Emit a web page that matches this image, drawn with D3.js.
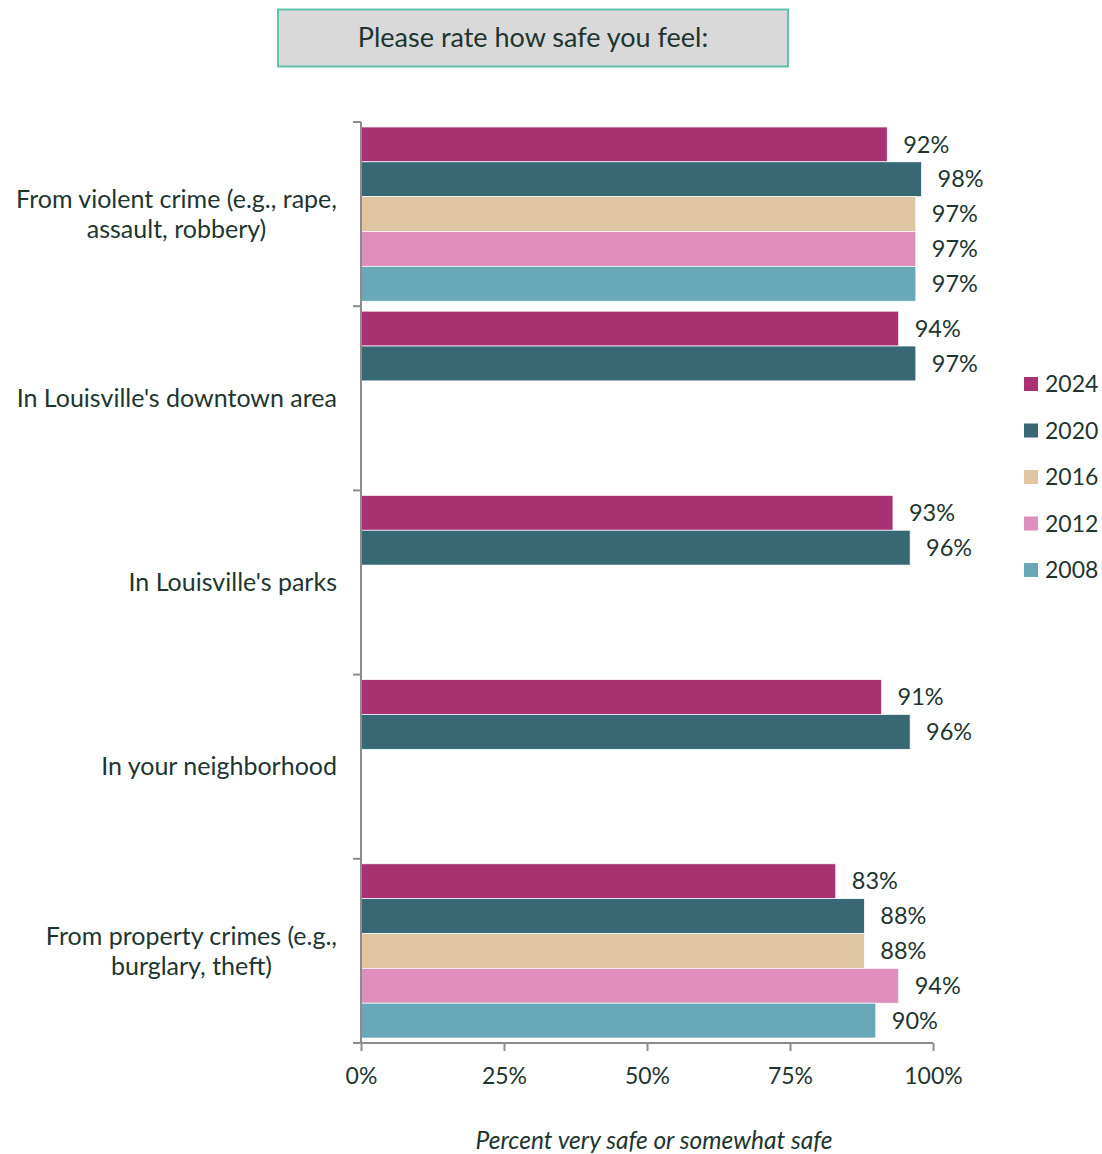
<!DOCTYPE html>
<html>
<head>
<meta charset="utf-8">
<script src="https://cdn.jsdelivr.net/npm/d3@7"></script>
<style>
  html, body { margin: 0; padding: 0; background: #ffffff; }
  svg { display: block; font-family: Lato, "Open Sans", sans-serif; }
</style>
</head>
<body>
<svg id="chart" width="1102" height="1154"></svg>
<script>
// Survey question shown in the header box
const title = "Please rate how safe you feel:";
const axisTitle = "Percent very safe or somewhat safe";

// Categories (each label may wrap onto two lines)
const categories = [
  ["From violent crime (e.g., rape,", "assault, robbery)"],
  ["In Louisville's downtown area"],
  ["In Louisville's parks"],
  ["In your neighborhood"],
  ["From property crimes (e.g.,", "burglary, theft)"]
];

// Survey years, in drawing order
const years = ["2024", "2020", "2016", "2012", "2008"];
const colors = ["#a83274", "#386874", "#dfc5a1", "#df8fbb", "#69a8b8"];

// Percent feeling very or somewhat safe, one array per year (null = not asked)
const v2024 = [92, 94, 93, 91, 83];
const v2020 = [98, 97, 96, 96, 88];
const v2016 = [97, null, null, null, 88];
const v2012 = [97, null, null, null, 94];
const v2008 = [97, null, null, null, 90];
const seriesValues = [v2024, v2020, v2016, v2012, v2008];

const xTicks = [0, 25, 50, 75, 100];

const textColor = "#1e3530";
const axisColor = "#8c8c8c";

const svg = d3.select("#chart");

// Header box
svg.append("rect")
  .attr("x", 278).attr("y", 9.5).attr("width", 510).attr("height", 57)
  .attr("fill", "#d9d9d9").attr("stroke", "#62c0ad").attr("stroke-width", 2);
svg.append("text")
  .attr("x", 533).attr("y", 38).attr("dy", "0.35em")
  .attr("text-anchor", "middle").attr("font-size", 27).attr("fill", textColor)
  .text(title);

const plot = { left: 361, right: 933, top: 122, bottom: 1043 };

const x = d3.scaleLinear().domain([0, 100]).range([plot.left, plot.right]);
const y = d3.scaleBand().domain(d3.range(categories.length))
  .range([plot.top, plot.bottom]).paddingInner(0).paddingOuter(0);
const yInner = d3.scaleBand().domain(years)
  .range([5, y.bandwidth() - 5]).paddingInner(0);

// Bars
const rows = [];
categories.forEach((c, ci) => {
  years.forEach((yr, yi) => {
    const v = seriesValues[yi][ci];
    if (v != null) rows.push({ ci, yr, yi, v });
  });
});

const g = svg.append("g");
g.selectAll("rect.bar").data(rows).join("rect")
  .attr("class", "bar")
  .attr("x", x(0))
  .attr("y", d => y(d.ci) + yInner(d.yr))
  .attr("width", d => x(d.v) - x(0))
  .attr("height", yInner.bandwidth())
  .attr("fill", d => colors[d.yi])
  .attr("stroke", "#ffffff").attr("stroke-width", 0.7);

// Value labels
g.selectAll("text.val").data(rows).join("text")
  .attr("class", "val")
  .attr("x", d => x(d.v) + 16)
  .attr("y", d => y(d.ci) + yInner(d.yr) + yInner.bandwidth() / 2)
  .attr("dy", "0.35em")
  .attr("font-size", 23.5).attr("fill", textColor)
  .text(d => d.v + "%");

// Left axis with ticks at category boundaries
const yAxis = svg.append("g");
yAxis.append("line")
  .attr("x1", plot.left).attr("x2", plot.left)
  .attr("y1", plot.top).attr("y2", plot.bottom)
  .attr("stroke", axisColor).attr("stroke-width", 2);
const bounds = d3.range(categories.length + 1).map(i => i < categories.length ? y(i) : plot.bottom);
yAxis.selectAll("line.tk").data(bounds).join("line")
  .attr("class", "tk")
  .attr("x1", plot.left - 8).attr("x2", plot.left)
  .attr("y1", d => d).attr("y2", d => d)
  .attr("stroke", axisColor).attr("stroke-width", 2);

// Category labels: block right-aligned to the axis, lines centred within it
const catG = svg.append("g");
const labelRight = 337;
categories.forEach((lines, ci) => {
  const cy = y(ci) + y.bandwidth() / 2;
  const lh = 30;
  const t = catG.append("text")
    .attr("text-anchor", "middle").attr("font-size", 25).attr("fill", textColor);
  const spans = lines.map((ln, li) => t.append("tspan")
    .attr("y", cy + (li - (lines.length - 1) / 2) * lh)
    .attr("dy", "0.35em")
    .text(ln));
  const maxW = d3.max(spans, s => s.node().getComputedTextLength());
  spans.forEach(s => s.attr("x", labelRight - maxW / 2));
});

// Bottom axis
const xAxis = d3.axisBottom(x).tickValues(xTicks).tickFormat(d => d + "%")
  .tickSize(8).tickPadding(17);
const xg = svg.append("g").attr("transform", `translate(0,${plot.bottom})`).call(xAxis);
xg.select(".domain").attr("stroke", axisColor).attr("stroke-width", 2)
  .attr("d", `M${plot.left},0H${plot.right}`);
xg.selectAll(".tick line").attr("stroke", axisColor).attr("stroke-width", 2);
xg.selectAll(".tick text").attr("font-size", 23).attr("fill", textColor)
  .attr("font-family", "Lato, 'Open Sans', sans-serif");

// Axis title
svg.append("text")
  .attr("x", 654).attr("y", 1140).attr("dy", "0.35em")
  .attr("text-anchor", "middle").attr("font-size", 24.5)
  .attr("font-style", "italic").attr("fill", textColor)
  .text(axisTitle);

// Legend
const leg = svg.append("g");
years.forEach((yr, i) => {
  const ly = 384 + i * 46.5;
  leg.append("rect")
    .attr("x", 1024).attr("y", ly - 7).attr("width", 14).attr("height", 14)
    .attr("fill", colors[i]);
  leg.append("text")
    .attr("x", 1045).attr("y", ly).attr("dy", "0.35em")
    .attr("font-size", 23).attr("fill", textColor)
    .text(yr);
});
</script>
</body>
</html>
